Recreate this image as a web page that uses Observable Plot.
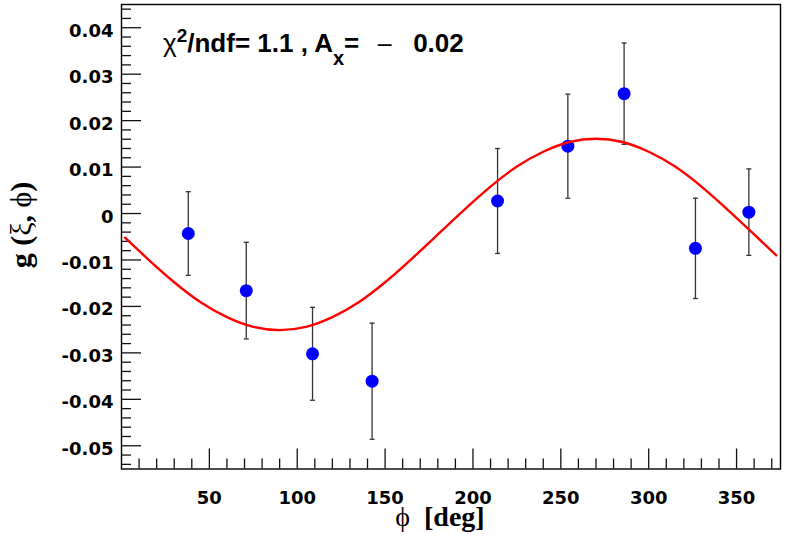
<!DOCTYPE html>
<html>
<head>
<meta charset="utf-8">
<script src="https://cdn.jsdelivr.net/npm/d3@7"></script>
<script src="https://cdn.jsdelivr.net/npm/@observablehq/plot@0.6"></script>
<style>
  html, body { margin: 0; padding: 0; background: #fff; }
  #chart svg { display: block; }
</style>
</head>
<body>
<div id="chart"></div>
<script>
// ---- data ----
const phi  = [38, 71, 108.7, 142.6, 214, 254, 286, 326.6, 357];
const gVal = [-0.0043, -0.0166, -0.0302, -0.0361, 0.0027, 0.0145, 0.0258, -0.0075, 0.0003];
const gErr = [0.0090, 0.0104, 0.0100, 0.0125, 0.0113, 0.0112, 0.0109, 0.0108, 0.0093];

// fitted curve
const fitPhi = [2, 15, 30, 45, 60, 75, 90, 105, 120, 135, 150, 165, 180, 195, 210, 225, 240, 255, 270, 285, 300, 315, 330, 345, 360, 372.6];
const fitG   = [-0.0052, -0.0098, -0.0148, -0.0191, -0.0223, -0.0244, -0.0251, -0.0244, -0.0223, -0.0191, -0.0148, -0.0098, -0.0045, 0.0008, 0.0058, 0.0101, 0.0133, 0.0154, 0.0161, 0.0154, 0.0133, 0.0101, 0.0058, 0.0008, -0.0045, -0.0090];

// axis ticks
const xMajor = [50, 100, 150, 200, 250, 300, 350];
const xMinor = [10, 20, 30, 40, 60, 70, 80, 90, 110, 120, 130, 140, 160, 170, 180, 190, 210, 220, 230, 240, 260, 270, 280, 290, 310, 320, 330, 340, 360, 370];
const yMajor = [-0.05, -0.04, -0.03, -0.02, -0.01, 0, 0.01, 0.02, 0.03, 0.04];
const yMinor = d3.range(-54, 46, 2).filter(v => v % 10 !== 0).map(v => v / 1000);

const titleText = { chi: "χ", sup: "2", mid: "/ndf= 1.1 , A", sub: "x", eq: "= ", minus: "−", val: " 0.02" };

// ---- tables built from the arrays ----
const pts = phi.map((p, i) => ({ phi: p, g: gVal[i], lo: gVal[i] - gErr[i], hi: gVal[i] + gErr[i] }));
const fit = fitPhi.map((p, i) => ({ phi: p, g: fitG[i] }));

const W = 788, H = 542, mL = 121, mR = 8, mT = 4, mB = 73.5;
const frameW = W - mL - mR, frameH = H - mT - mB;

const capSymbol = {
  draw(ctx, size) {
    const w = Math.sqrt(size / Math.PI);
    ctx.moveTo(-w, 0); ctx.lineTo(w, 0);
  }
};

const tickFont = { fontFamily: "DejaVu Sans, sans-serif", fontWeight: "bold", fontSize: 18 };

const svg = Plot.plot({
  width: W, height: H,
  marginLeft: mL, marginRight: mR, marginTop: mT, marginBottom: mB,
  style: { background: "#fff", color: "#000", fontFamily: "Liberation Sans, Arial, sans-serif" },
  x: { domain: [0, 375] },
  y: { domain: [-0.055, 0.045] },
  marks: [
    // inward tick marks
    Plot.tickX(xMajor, { x: d => d, insetTop: frameH - 20, stroke: "#111", strokeWidth: 1.3 }),
    Plot.tickX(xMinor, { x: d => d, insetTop: frameH - 10, stroke: "#111", strokeWidth: 1.3 }),
    Plot.tickY(yMajor, { y: d => d, insetRight: frameW - 20, stroke: "#111", strokeWidth: 1.3 }),
    Plot.tickY(yMinor, { y: d => d, insetRight: frameW - 10, stroke: "#111", strokeWidth: 1.3 }),
    // tick labels
    Plot.axisX({ ticks: xMajor, tickSize: 0, tickPadding: 22, label: null, tickFormat: d => String(d), ...tickFont }),
    Plot.axisY({ ticks: yMajor, tickSize: 0, tickPadding: 8, label: null, dy: 3.3,
                 tickFormat: d => (Math.abs(d) < 1e-9 ? "0" : d.toFixed(2)), ...tickFont }),
    Plot.frame({ stroke: "#000", strokeWidth: 1.4 }),
    // error bars
    Plot.ruleX(pts, { x: "phi", y1: "lo", y2: "hi", stroke: "#333", strokeWidth: 1.3 }),
    Plot.dot(pts, { x: "phi", y: "lo", r: 2.5, symbol: capSymbol, stroke: "#333", strokeWidth: 1.3, fill: "none" }),
    Plot.dot(pts, { x: "phi", y: "hi", r: 2.5, symbol: capSymbol, stroke: "#333", strokeWidth: 1.3, fill: "none" }),
    // points
    Plot.dot(pts, { x: "phi", y: "g", r: 6.5, fill: "#0000ff", stroke: "none" }),
    // fit curve
    Plot.line(fit, { x: "phi", y: "g", curve: "natural", stroke: "#ff0000", strokeWidth: 2.4 })
  ]
});

const s = d3.select(svg);

// title / fit result
const t = s.append("text")
  .attr("x", 163).attr("y", 52).attr("text-anchor", "start")
  .attr("font-family", "Liberation Sans, Arial, sans-serif")
  .attr("font-size", 26).attr("font-weight", "bold").attr("fill", "#000")
  .style("white-space", "pre");
t.append("tspan").attr("font-weight", "normal").text(titleText.chi);
t.append("tspan").attr("font-size", 19).attr("dy", -10.5).text(titleText.sup);
t.append("tspan").attr("dy", 10.5).text(titleText.mid);
t.append("tspan").attr("font-size", 20).attr("dy", 13).text(titleText.sub);
t.append("tspan").attr("dy", -13).text(titleText.eq);
t.append("tspan").attr("font-weight", "normal").attr("font-family", "DejaVu Sans, sans-serif")
  .attr("font-size", 22).attr("dx", 9).text(titleText.minus);
t.append("tspan").attr("dx", 12).text(titleText.val);

// x axis label
const xl = s.append("text")
  .attr("x", 440).attr("y", 526).attr("text-anchor", "middle")
  .attr("font-family", "Liberation Serif, Times New Roman, serif")
  .attr("font-size", 28).attr("font-weight", "bold").attr("fill", "#000")
  .style("white-space", "pre");
xl.append("tspan").attr("font-weight", "normal").text("ϕ");
xl.append("tspan").text("  [deg]");

// y axis label
const yl = s.append("text")
  .attr("transform", "translate(31,225) rotate(-90)").attr("text-anchor", "middle")
  .attr("font-family", "Liberation Serif, Times New Roman, serif")
  .attr("font-size", 30).attr("font-weight", "bold").attr("fill", "#000")
  .style("white-space", "pre");
yl.append("tspan").text("g (");
yl.append("tspan").attr("font-weight", "normal").text("ξ");
yl.append("tspan").text(", ");
yl.append("tspan").attr("font-weight", "normal").text("ϕ");
yl.append("tspan").text(")");

document.getElementById("chart").appendChild(svg);
</script>
</body>
</html>
